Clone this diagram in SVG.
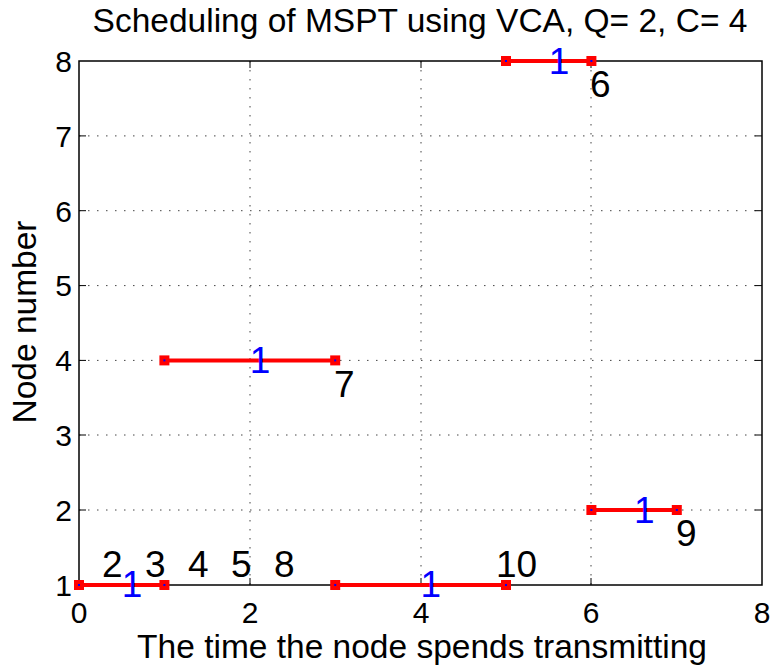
<svg xmlns="http://www.w3.org/2000/svg" width="776" height="669" viewBox="0 0 776 669">
<style>
text{font-family:"Liberation Sans",Arial,sans-serif;fill:#000}
.grid{stroke:#444;stroke-width:1;stroke-dasharray:1.5 7.5;fill:none}
.axis{stroke:#000;stroke-width:1.5;fill:none}
.tick{stroke:#000;stroke-width:1}
.tl{font-size:30px}
.seg{stroke:#f00;stroke-width:4}
.lbl{font-size:37px}
.one{font-size:37px;fill:#00f}
</style>
<defs>
<g id="mk"><rect x="-5" y="-5" width="10" height="10" fill="#f00"/><rect x="-1" y="-1" width="2" height="2" fill="#00f"/></g>
</defs>
<rect width="776" height="669" fill="#fff"/>
<g id="grid">
<line class="grid" x1="250" y1="61" x2="250" y2="585"/>
<line class="grid" x1="421" y1="61" x2="421" y2="585"/>
<line class="grid" x1="591" y1="61" x2="591" y2="585"/>
<line class="grid" x1="79" y1="510" x2="762" y2="510"/>
<line class="grid" x1="79" y1="435" x2="762" y2="435"/>
<line class="grid" x1="79" y1="360.4" x2="762" y2="360.4"/>
<line class="grid" x1="79" y1="285.6" x2="762" y2="285.6"/>
<line class="grid" x1="79" y1="210.7" x2="762" y2="210.7"/>
<line class="grid" x1="79" y1="135.9" x2="762" y2="135.9"/>
</g>
<g id="axes">
<rect class="axis" x="79" y="61" width="683" height="524"/>
<path class="tick" d="M250 585v-7M421 585v-7M591 585v-7M250 61v7M421 61v7M591 61v7M79 510h7M79 435h7M79 360.4h7M79 285.6h7M79 210.7h7M79 135.9h7M762 510h-7M762 435h-7M762 360.4h-7M762 285.6h-7M762 210.7h-7M762 135.9h-7"/>
<g class="tl" text-anchor="middle">
<text x="79" y="623">0</text><text x="250" y="623">2</text><text x="421" y="623">4</text><text x="591" y="623">6</text><text x="762" y="623">8</text>
</g>
<g class="tl" text-anchor="end">
<text x="72" y="596">1</text><text x="72" y="521">2</text><text x="72" y="446">3</text><text x="72" y="371">4</text><text x="72" y="296">5</text><text x="72" y="222">6</text><text x="72" y="147">7</text><text x="72" y="72">8</text>
</g>
<text x="420" y="32" text-anchor="middle" style="font-size:33.5px">Scheduling of MSPT using VCA, Q= 2, C= 4</text>
<text x="422" y="658" text-anchor="middle" style="font-size:33.5px">The time the node spends transmitting</text>
<text transform="translate(36 322) rotate(-90)" text-anchor="middle" style="font-size:33.5px">Node number</text>
</g>
<g id="connectors">
<line class="seg" x1="79" y1="585" x2="164.4" y2="585"/>
<line class="seg" x1="335.2" y1="585" x2="506" y2="585"/>
<line class="seg" x1="164.4" y1="360.4" x2="335.2" y2="360.4"/>
<line class="seg" x1="506" y1="61" x2="591.4" y2="61"/>
<line class="seg" x1="591.4" y1="510" x2="676.8" y2="510"/>
</g>
<g id="node-seg1">
<use href="#mk" x="79" y="585"/><use href="#mk" x="164.4" y="585"/>
<text class="one" x="121.7" y="597">1</text>
</g>
<g id="node-seg2">
<use href="#mk" x="335.2" y="585"/><use href="#mk" x="506" y="585"/>
<text class="one" x="420.6" y="597">1</text>
</g>
<g id="node-seg3">
<use href="#mk" x="164.4" y="360.4"/><use href="#mk" x="335.2" y="360.4"/>
<text class="one" x="249.8" y="373.4">1</text>
</g>
<g id="node-seg4">
<use href="#mk" x="506" y="61"/><use href="#mk" x="591.4" y="61"/>
<text class="one" x="548.7" y="74">1</text>
</g>
<g id="node-seg5">
<use href="#mk" x="591.4" y="510"/><use href="#mk" x="676.8" y="510"/>
<text class="one" x="634.1" y="523">1</text>
</g>
<g id="labels" class="lbl">
<text x="102" y="577">2</text>
<text x="145" y="577">3</text>
<text x="188" y="577">4</text>
<text x="231" y="577">5</text>
<text x="274" y="577">8</text>
<text x="496" y="577">10</text>
<text x="334" y="397">7</text>
<text x="590" y="97">6</text>
<text x="676" y="546">9</text>
</g>
</svg>
